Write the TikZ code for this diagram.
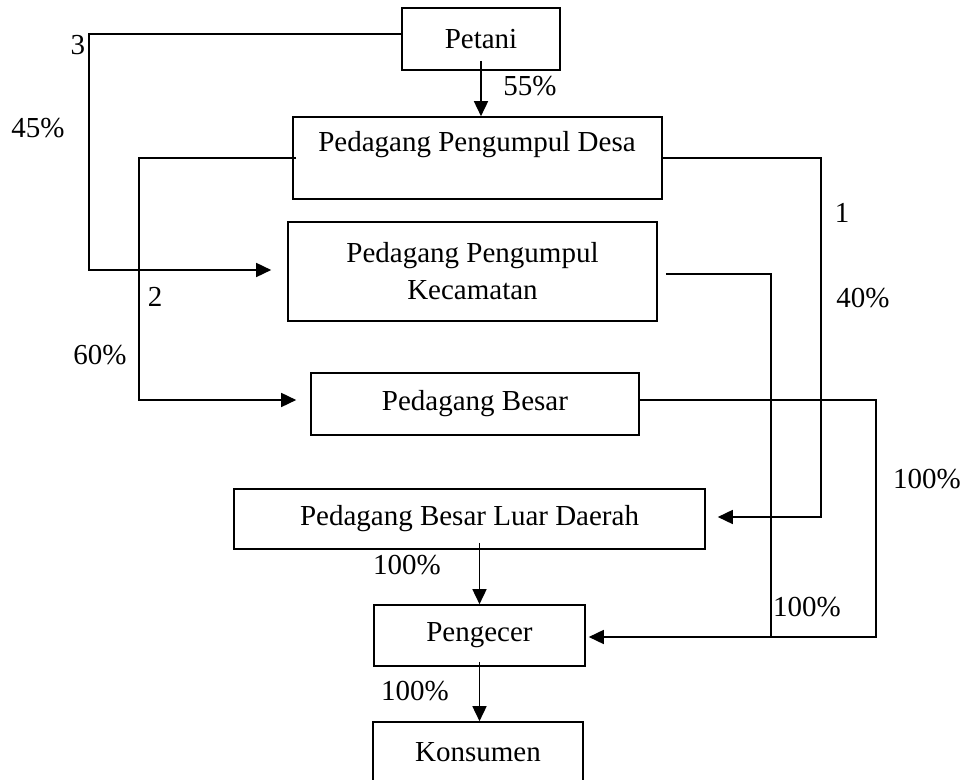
\documentclass[tikz,border=0pt]{standalone}
\usepackage{fontspec}
\setmainfont{Liberation Serif}
\usetikzlibrary{arrows.meta}
\tikzset{
  box/.style={draw, line width=0.8pt, rectangle, inner sep=0pt, align=center,
    font=\fontsize{14.5}{18.5}\selectfont},
  txt/.style={inner sep=0pt, align=center, font=\fontsize{14.5}{18.5}\selectfont},
  conn/.style={line width=0.8pt},
  arr/.style={line width=0.8pt, -{Triangle[length=7.5pt,width=7pt]}}
}
\begin{document}
\begin{tikzpicture}[x=0.5pt,y=-0.5pt]
\useasboundingbox (0,0) rectangle (966,780);
\clip (0,0) rectangle (966,780);
% boxes
\node[box, minimum width=79pt, minimum height=31pt] (petani) at (481,39) {Petani};
\node[box, minimum width=184.5pt, minimum height=41pt] (ppd) at (477.5,158) {};
\node[txt] (tppd) at (477,145) {Pedagang Pengumpul Desa};
\node[box, minimum width=184.5pt, minimum height=49.5pt] (ppk) at (472.5,271.5) {Pedagang Pengumpul\\Kecamatan};
\node[box, minimum width=164pt, minimum height=31pt] (besar) at (475,404) {Pedagang Besar};
\node[box, minimum width=235.5pt, minimum height=30pt] (pbld) at (469.5,519) {Pedagang Besar Luar Daerah};
\node[box, minimum width=105.5pt, minimum height=30.5pt] (pengecer) at (479.5,635.5) {Pengecer};
\node[box, minimum width=105pt, minimum height=30.5pt] (konsumen) at (478,752.5) {Konsumen};
% bend coordinates
\coordinate (c3) at (89,150);
\coordinate (c2) at (139,300);
\coordinate (c1) at (821,300);
\coordinate (c4) at (771,637);
\coordinate (c5) at (876,500);
% connectors
\draw[arr] ([yshift=5pt]petani.south) -- (petani.south |- ppd.north);
\draw[arr] ([yshift=2.5pt]petani.west) -| (c3) |- ([xshift=-8pt,yshift=0.75pt]ppk.west);
\draw[arr] ([xshift=2pt]ppd.west) -| (c2) |- ([xshift=-7pt,yshift=2pt]besar.west);
\draw[arr] (ppd.east) -| (c1) |- ([xshift=6pt,yshift=1pt]pbld.east);
\draw[conn] ([xshift=4pt,yshift=-1.25pt]ppk.east) -| (c4);
\draw[arr] ([yshift=2pt]besar.east) -| (c5) |- ([xshift=1.5pt,yshift=-0.75pt]pengecer.east);
\draw[arr] ([yshift=3.5pt]pengecer.north |- pbld.south) -- (pengecer.north);
\draw[arr] ([yshift=2.5pt]pengecer.south) -- (pengecer.south |- konsumen.north);
% labels
\node[txt] (l55) at (530,86) {55\%};
\node[txt] (l3) at (78,45) {3};
\node[txt] (l45) at (38,128) {45\%};
\node[txt] (l2) at (155,297) {2};
\node[txt] (l60) at (100,355) {60\%};
\node[txt] (l1) at (842,213) {1};
\node[txt] (l40) at (863,298) {40\%};
\node[txt] (l100a) at (927,479) {100\%};
\node[txt] (l100b) at (807,607) {100\%};
\node[txt] (l100c) at (407,565) {100\%};
\node[txt] (l100d) at (415,691) {100\%};
\end{tikzpicture}
\end{document}
